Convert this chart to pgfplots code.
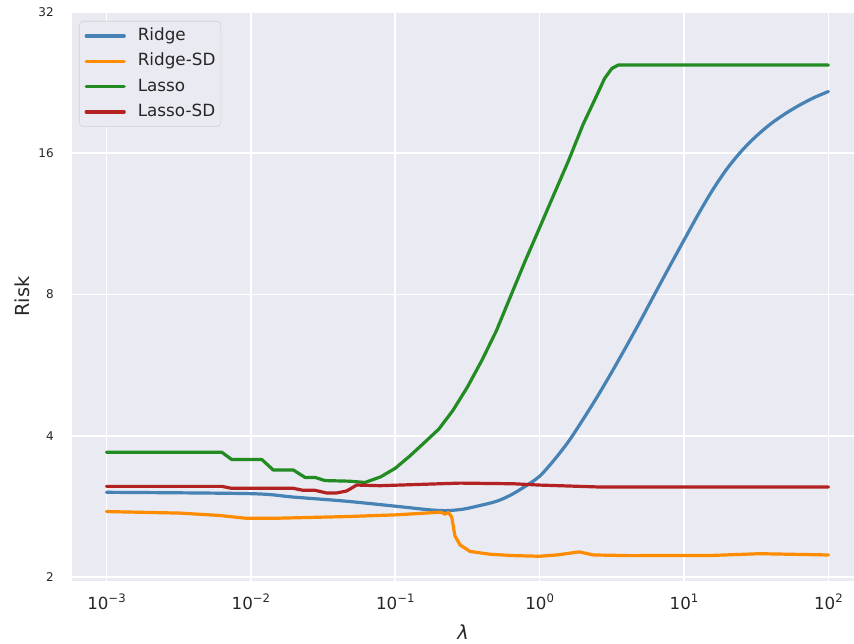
\documentclass[border=0pt]{standalone}
\usepackage{fontspec}
\setmainfont{DejaVu Sans}
\usepackage{pgfplots}
\pgfplotsset{compat=1.18}

\definecolor{bg}{HTML}{EAEAF2}
\definecolor{txt}{HTML}{262626}
\definecolor{ridge}{HTML}{4682B4}
\definecolor{ridgesd}{HTML}{FF8C00}
\definecolor{lasso}{HTML}{228B22}
\definecolor{lassosd}{HTML}{B22222}

% 10^k tick label set in the text font
\newcommand{\ep}[1]{10\raisebox{0.42em}{\fontsize{8.75}{10}\selectfont #1}}

\begin{document}
\begin{tikzpicture}
\begin{axis}[
  scale only axis, width=586.5pt, height=426.75pt,
  xmode=log, ymode=log, log basis y=2,
  xmin=5.77e-4, xmax=150.3, ymin=1.961, ymax=32,
  axis background/.style={fill=bg},
  axis line style={draw=none},
  major tick length=0pt, minor tick length=0pt,
  grid=major, major grid style={white, line width=1.2pt},
  xtick={1e-3,1e-2,1e-1,1,10,100},
  xticklabels={\ep{−3},\ep{−2},\ep{−1},\ep{0},\ep{1},\ep{2}},
  ytick={2,4,8,16,32}, yticklabels={2,4,8,16,32},
  xticklabel style={font=\fontsize{12.5}{15}\selectfont, text=txt, inner sep=0pt, anchor=north, yshift=-9.5pt},
  yticklabel style={font=\fontsize{9}{11}\selectfont, text=txt, inner sep=0pt, anchor=east, xshift=-13.5pt},
  xlabel={\textit{λ}}, ylabel={Risk},
  xlabel style={font=\fontsize{14.5}{17}\selectfont, text=txt, at={(axis description cs:0.5,0)}, anchor=center, yshift=-38.25pt},
  ylabel style={font=\fontsize{14.5}{17}\selectfont, text=txt, at={(axis description cs:-0.0639,0.5)}, anchor=center},
  every axis plot/.append style={line width=2.4pt, line join=round, line cap=round},
  legend cell align=left,
  legend image code/.code={\draw[#1] (0pt,0pt) -- (28.5pt,0pt);},
  legend style={at={(rel axis cs:0,1)}, anchor=north west, xshift=5.25pt, yshift=-6.75pt,
    fill=bg, draw=black!18, rounded corners=3pt, font=\fontsize{12.6}{15}\selectfont, text=txt,
    inner xsep=4pt, inner ysep=5pt, row sep=7pt,
    nodes={inner sep=0pt, text height=9.5pt, text depth=2.5pt},
    /tikz/every odd column/.append style={column sep=9pt}},
]
\addplot[ridge, smooth, tension=0.5] coordinates {
 (0.001,3.03) (0.00997,3.01) (0.0197,2.96) (0.0460,2.90) (0.1007,2.83)
 (0.174,2.78) (0.227,2.77) (0.296,2.79) (0.386,2.84) (0.504,2.90)
 (0.631,2.99) (0.794,3.12) (1,3.28) (1.259,3.55) (1.585,3.89)
 (1.995,4.33) (2.512,4.85) (3.162,5.47) (3.981,6.20) (5.012,7.05)
 (6.310,8.05) (7.943,9.18) (10,10.45) (12.59,11.88) (15.85,13.39)
 (19.95,14.86) (25.12,16.20) (31.62,17.40) (39.81,18.48) (50.12,19.42)
 (63.10,20.26) (79.43,21.02) (100,21.66)
};
\addlegendentry{Ridge}
\addplot[ridgesd] coordinates {
 (0.001,2.757) (0.00323,2.736) (0.00611,2.704) (0.0091,2.669) (0.0159,2.669)
 (0.0460,2.690) (0.102,2.713) (0.207,2.749) (0.221,2.722) (0.233,2.746)
 (0.246,2.686) (0.259,2.446) (0.281,2.341) (0.329,2.267) (0.453,2.236)
 (0.656,2.221) (0.993,2.214) (1.312,2.228) (1.88,2.262) (2.35,2.228)
 (4.22,2.221) (15,2.222) (33.5,2.242) (100,2.228)
};
\addlegendentry{Ridge-SD}
\addplot[lasso] coordinates {
 (0.001,3.69) (0.00628,3.69) (0.00736,3.56) (0.0119,3.56) (0.0143,3.38)
 (0.0197,3.38) (0.0237,3.26) (0.0278,3.26) (0.0326,3.21) (0.0485,3.20)
 (0.0617,3.18) (0.0794,3.27) (0.1,3.41) (0.126,3.62) (0.158,3.86)
 (0.2,4.13) (0.251,4.53) (0.316,5.08) (0.398,5.79) (0.501,6.69)
 (0.631,7.95) (0.794,9.43) (1,11.11) (1.259,13.10) (1.585,15.43)
 (1.995,18.4) (2.512,21.4) (2.818,23.1) (3.162,24.25) (3.50,24.66)
 (100,24.66)
};
\addlegendentry{Lasso}
\addplot[lassosd] coordinates {
 (0.001,3.12) (0.00628,3.12) (0.00736,3.09) (0.0197,3.09) (0.0230,3.06)
 (0.0278,3.06) (0.0335,3.02) (0.0392,3.02) (0.0460,3.05) (0.0541,3.14)
 (0.0784,3.13) (0.281,3.17) (0.656,3.16) (0.989,3.14) (2.62,3.11) (100,3.11)
};
\addlegendentry{Lasso-SD}
\coordinate (bl) at (rel axis cs:0,0);
\coordinate (tr) at (rel axis cs:1,1);
\end{axis}
\pgfresetboundingbox
\path[use as bounding box] ([xshift=-54pt,yshift=-47.25pt]bl) rectangle ([yshift=9pt]tr);
\end{tikzpicture}
\end{document}
